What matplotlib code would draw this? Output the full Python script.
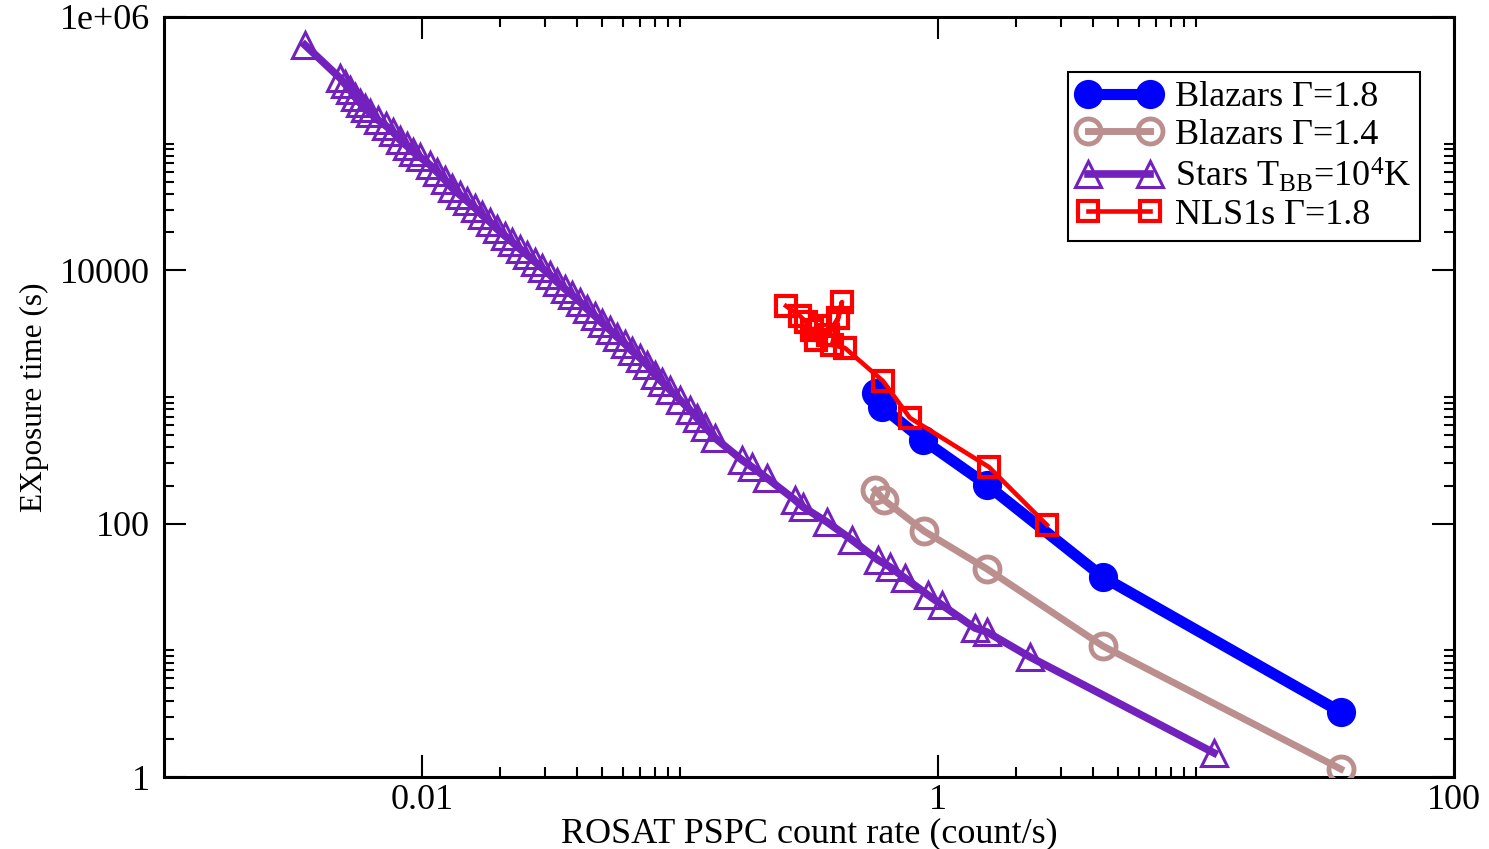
import matplotlib
matplotlib.use('Agg')
import matplotlib.pyplot as plt

plt.rcParams['font.family'] = ['Liberation Serif', 'DejaVu Serif']
plt.rcParams['mathtext.fontset'] = 'custom'
plt.rcParams['mathtext.rm'] = 'Liberation Serif'
plt.rcParams['mathtext.it'] = 'Liberation Serif:italic'

# count rate (count/s) vs exposure time (s)
blz18_rate = [0.575, 0.607, 0.875, 1.549, 4.36, 36.4]
blz18_time = [1075, 834, 458, 202, 37.9, 3.26]

blz14_rate = [0.570, 0.618, 0.882, 1.549, 4.36, 36.4]
blz14_time = [184.5, 153.7, 87.5, 43.9, 10.8, 1.157]

stars_rate = [0.00352, 0.004811, 0.005030, 0.005258, 0.005498, 0.005749, 0.006012,
              0.006285, 0.006752, 0.007252, 0.007719, 0.008215, 0.008746, 0.009229,
              0.009822, 0.01074, 0.01143, 0.01228, 0.01307, 0.01404, 0.01494,
              0.01605, 0.01708, 0.01835, 0.01953, 0.02097, 0.02233, 0.02398,
              0.02553, 0.02742, 0.02918, 0.03134, 0.03336, 0.03583, 0.03814,
              0.04097, 0.04360, 0.04683, 0.04985, 0.05354, 0.05699, 0.06121,
              0.06516, 0.06998, 0.07449, 0.08000, 0.08516, 0.09146, 0.1000,
              0.1093, 0.1164, 0.1250, 0.1367, 0.1739, 0.1901, 0.2174, 0.2791,
              0.2997, 0.3713, 0.4642, 0.5855, 0.6516, 0.7452, 0.9148, 1.036,
              1.391, 1.549, 2.273, 11.74]
stars_time = [6.0e5, 3.30e5, 2.958e5, 2.653e5, 2.336e5, 2.095e5, 1.912e5,
              1.746e5, 1.537e5, 1.379e5, 1.236e5, 1.069e5, 9.585e4, 8.595e4,
              7.847e4, 6.785e4, 5.975e4, 5.168e4, 4.467e4, 3.932e4, 3.527e4,
              3.105e4, 2.734e4, 2.408e4, 2.120e4, 1.867e4, 1.674e4, 1.474e4,
              1.322e4, 1.164e4, 1.043e4, 9188, 8090, 7123, 6388,
              5623, 4951, 4360, 3838, 3381, 2976, 2620,
              2308, 2032, 1789, 1492, 1313, 1136, 947,
              789.6, 682.9, 579.8, 474.6, 318, 280, 229, 153.8,
              135.4, 103.1, 74.3, 51.7, 45.5, 37.2, 27.3, 22.8,
              15.0, 13.95, 8.86, 1.55]

nls1_rate = [0.2576, 0.2918, 0.3079, 0.3248, 0.3488, 0.3366, 0.3747, 0.4097,
             0.4245, 0.3883, 0.4360, 0.612, 0.779, 1.576, 2.645]
nls1_time = [5230, 4360, 3910, 3380, 3636, 2818, 3087, 4204,
             5623, 2574, 2437, 1337, 683, 280, 97.6]

x_major = [0.01, 1, 100]
x_labels = ['0.01', '1', '100']
y_major = [1, 100, 1e4, 1e6]
y_labels = ['1', '100', '10000', '1e+06']

blue = '#0000ff'
brown = '#bc8f8f'
violet = '#7221bc'
red = '#ff0000'

fig = plt.figure(figsize=(14.89, 8.49), dpi=100)
ax = fig.add_axes([0.1101, 0.0848, 0.8664, 0.8952])

ax.plot(blz18_rate, blz18_time, '-o', color=blue, lw=8, ms=20,
        mfc=blue, mec=blue, label='Blazars \u0393=1.8', zorder=3)
ax.plot(blz14_rate, blz14_time, '-o', color=brown, lw=5, ms=18, mew=3.5,
        mfc='none', mec=brown, label='Blazars \u0393=1.4', zorder=3)
ax.plot(stars_rate, stars_time, '-^', color=violet, lw=5.5, ms=19, mew=2.2,
        mfc='none', mec=violet, label=r'Stars T$_{\rm BB}$=10$^{4}$K', zorder=3)
ax.plot(nls1_rate, nls1_time, '-s', color=red, lw=3.3, ms=15, mew=3,
        mfc='none', mec=red, label='NLS1s \u0393=1.8', zorder=4)

ax.set_xscale('log')
ax.set_yscale('log')
ax.set_xlim(1e-3, 100)
ax.set_ylim(1, 1e6)

x_minor = [m * 10.0 ** k for k in (-2, 0) for m in range(2, 11)]
y_minor = [m * 10.0 ** k for k in (0, 2, 4) for m in range(2, 11)]
ax.set_xticks(x_major, x_labels)
ax.set_xticks(x_minor, minor=True)
ax.set_yticks(y_major, y_labels)
ax.set_yticks(y_minor, minor=True)
ax.xaxis.set_minor_formatter(matplotlib.ticker.NullFormatter())
ax.yaxis.set_minor_formatter(matplotlib.ticker.NullFormatter())

ax.tick_params(which='both', direction='in', top=True, right=True, labelsize=26)
ax.tick_params(which='major', length=16, width=1.5)
ax.tick_params(which='minor', length=7.5, width=1.5)
ax.tick_params(axis='x', pad=5)
ax.tick_params(axis='y', pad=10)
for s in ax.spines.values():
    s.set_linewidth(2.2)

ax.set_xlabel('ROSAT PSPC count rate (count/s)', fontsize=26, labelpad=0)
ax.set_ylabel('EXposure time (s)', fontsize=22.5, labelpad=8)

leg = ax.legend(loc='upper right', bbox_to_anchor=(0.9736, 0.9276), fontsize=26,
                numpoints=2, handlelength=2.3, handletextpad=0.4, labelspacing=0.12,
                borderpad=0.25, borderaxespad=0, fancybox=False, framealpha=1,
                edgecolor='black')
leg.get_frame().set_linewidth(1.5)

fig.savefig('out.png', dpi=100)
